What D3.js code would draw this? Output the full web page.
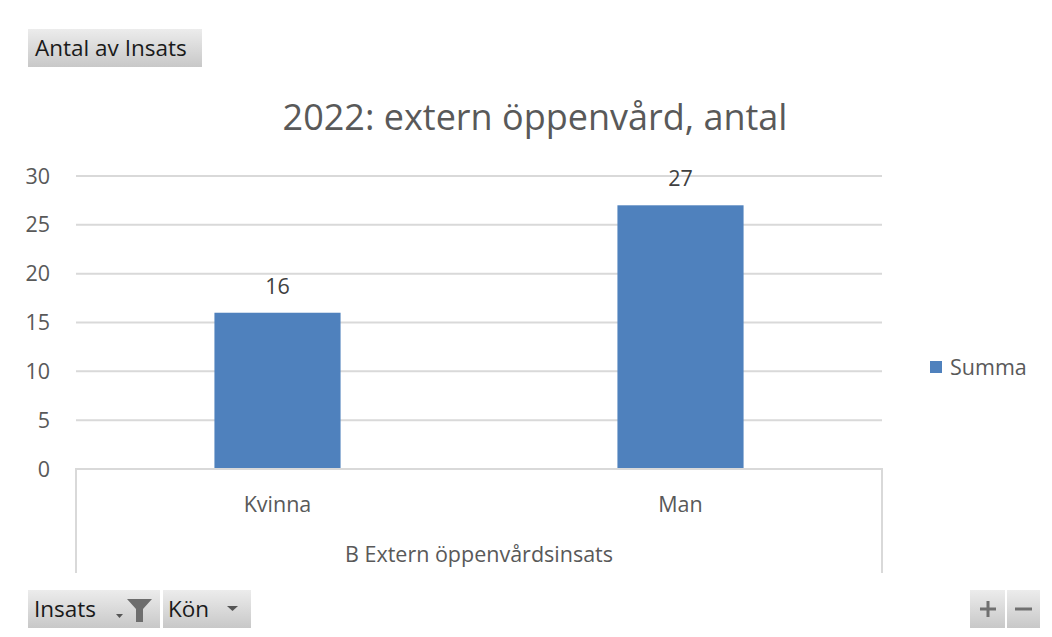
<!DOCTYPE html>
<html>
<head>
<meta charset="utf-8">
<script src="https://cdn.jsdelivr.net/npm/d3@7"></script>
<style>
  body { margin: 0; background: #fff; }
  svg { display: block; font-family: "Open Sans", "Noto Sans", sans-serif; }
</style>
</head>
<body>
<svg id="chart" width="1052" height="637"></svg>
<script>
// chart data
var categories = ["Kvinna", "Man"];
var values = [16, 27];
var groupLabel = "B Extern öppenvårdsinsats";
var seriesName = "Summa";
var yTicks = [0, 5, 10, 15, 20, 25, 30];
var title = "2022: extern öppenvård, antal";

var svg = d3.select("#chart");
var W = 1052, H = 637;

var defs = svg.append("defs");
var grad = defs.append("linearGradient")
    .attr("id", "btn").attr("x1", 0).attr("y1", 0).attr("x2", 0).attr("y2", 1);
grad.append("stop").attr("offset", "0%").attr("stop-color", "#ececec");
grad.append("stop").attr("offset", "100%").attr("stop-color", "#c8c8c8");

var plotL = 76, plotR = 882, plotT = 176, plotB = 469;
var labelSize = 21.5;

var x = d3.scaleBand()
    .domain(categories)
    .range([plotL, plotR])
    .paddingInner(0.687)
    .paddingOuter(0.3435);

var y = d3.scaleLinear()
    .domain([0, 30])
    .range([plotB, plotT]);

// title
svg.append("text")
    .attr("x", 535).attr("y", 130)
    .attr("text-anchor", "middle")
    .attr("font-size", 36)
    .attr("fill", "#595959")
    .text(title);

// gridlines
svg.append("g").selectAll("line")
    .data(yTicks.filter(function(d){ return d > 0; }))
    .enter().append("line")
    .attr("x1", plotL).attr("x2", plotR)
    .attr("y1", function(d){ return y(d); })
    .attr("y2", function(d){ return y(d); })
    .attr("stroke", "#d9d9d9")
    .attr("stroke-width", 2);

// y axis labels
svg.append("g").selectAll("text")
    .data(yTicks)
    .enter().append("text")
    .attr("x", 50)
    .attr("y", function(d){ return y(d); })
    .attr("dy", "0.35em")
    .attr("text-anchor", "end")
    .attr("font-size", labelSize)
    .attr("fill", "#595959")
    .text(function(d){ return d; });

// bars
svg.append("g").selectAll("rect")
    .data(values)
    .enter().append("rect")
    .attr("x", function(d, i){ return x(categories[i]); })
    .attr("width", x.bandwidth())
    .attr("y", function(d){ return y(d); })
    .attr("height", function(d){ return y(0) - y(d); })
    .attr("fill", "#4f81bd");

// value labels
svg.append("g").selectAll("text")
    .data(values)
    .enter().append("text")
    .attr("x", function(d, i){ return x(categories[i]) + x.bandwidth() / 2; })
    .attr("y", function(d){ return y(d) - 19; })
    .attr("text-anchor", "middle")
    .attr("font-size", labelSize)
    .attr("fill", "#404040")
    .text(function(d){ return d; });

// category axis box
var axisColor = "#d9d9d9";
svg.append("path")
    .attr("d", "M" + plotL + "," + (H - 64) + "V" + plotB + "H" + plotR + "V" + (H - 64))
    .attr("fill", "none")
    .attr("stroke", axisColor)
    .attr("stroke-width", 2);

svg.append("g").selectAll("text")
    .data(categories)
    .enter().append("text")
    .attr("x", function(d){ return x(d) + x.bandwidth() / 2; })
    .attr("y", 512)
    .attr("text-anchor", "middle")
    .attr("font-size", labelSize)
    .attr("fill", "#595959")
    .text(function(d){ return d; });

svg.append("text")
    .attr("x", (plotL + plotR) / 2).attr("y", 562)
    .attr("text-anchor", "middle")
    .attr("font-size", labelSize)
    .attr("fill", "#595959")
    .text(groupLabel);

// legend
svg.append("rect")
    .attr("x", 930).attr("y", 361).attr("width", 12).attr("height", 12)
    .attr("fill", "#4f81bd");
svg.append("text")
    .attr("x", 950).attr("y", 367).attr("dy", "0.35em")
    .attr("font-size", labelSize)
    .attr("fill", "#595959")
    .text(seriesName);

// pivot field buttons
function button(x0, y0, w, h) {
    return svg.append("rect")
        .attr("x", x0).attr("y", y0).attr("width", w).attr("height", h)
        .attr("fill", "url(#btn)");
}
var btnFont = "'Open Sans', sans-serif";

button(28, 29, 174, 38);
svg.append("text")
    .attr("x", 35).attr("y", 56)
    .attr("font-size", 22.5).attr("font-family", btnFont)
    .attr("fill", "#1a1a1a")
    .text("Antal av Insats");

button(28, 590, 132, 38);
svg.append("text")
    .attr("x", 34).attr("y", 617)
    .attr("font-size", 22.5).attr("font-family", btnFont)
    .attr("fill", "#1a1a1a")
    .text("Insats");
// small dropdown arrow + filter funnel
svg.append("path")
    .attr("d", "M116,614h7l-3.5,4z")
    .attr("fill", "#555");
svg.append("path")
    .attr("d", "M127,599h25l-9,10v13h-7v-13z")
    .attr("fill", "#6d6d6d");

button(163, 590, 88, 38);
svg.append("text")
    .attr("x", 168).attr("y", 617)
    .attr("font-size", 22.5).attr("font-family", btnFont)
    .attr("fill", "#1a1a1a")
    .text("Kön");
svg.append("path")
    .attr("d", "M227,606h11l-5.5,5z")
    .attr("fill", "#555");

button(970, 590, 35, 38);
button(1007, 590, 33, 38);
svg.append("path")
    .attr("d", "M980,609h16M988,601v16")
    .attr("stroke", "#707070").attr("stroke-width", 3);
svg.append("path")
    .attr("d", "M1015,609h17")
    .attr("stroke", "#707070").attr("stroke-width", 3);
</script>
</body>
</html>
